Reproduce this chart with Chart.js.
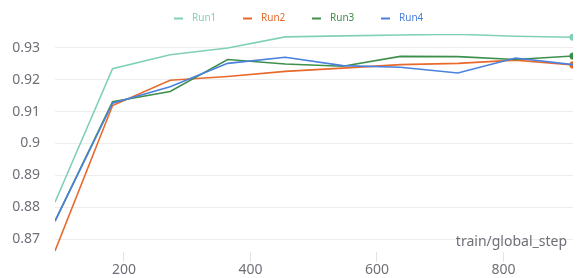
<!DOCTYPE html>
<html>
<head>
<meta charset="utf-8">
<script src="https://cdn.jsdelivr.net/npm/chart.js@4"></script>
<style>
  html, body { margin: 0; padding: 0; background: #fff; }
  #wrap { width: 578px; height: 278px; }
</style>
</head>
<body>
<div id="wrap"><canvas id="chart" width="578" height="278"></canvas></div>
<script>
// Daten
const steps = [91, 182, 273, 364, 455, 546, 637, 728, 819, 910];
const run1 = [0.8816, 0.9234, 0.9278, 0.9299, 0.9334, 0.9337, 0.9340, 0.9342, 0.9336, 0.9333];
const run2 = [0.8663, 0.9119, 0.9198, 0.9210, 0.9226, 0.9236, 0.9247, 0.9251, 0.9261, 0.9246];
const run3 = [0.8757, 0.9131, 0.9163, 0.9263, 0.9249, 0.9242, 0.9273, 0.9272, 0.9263, 0.9274];
const run4 = [0.8757, 0.9126, 0.9178, 0.9251, 0.9270, 0.9244, 0.9239, 0.9221, 0.9268, 0.9247];
const yTicks = [0.87, 0.88, 0.89, 0.9, 0.91, 0.92, 0.93];
const xTicks = [200, 400, 600, 800];

const textGray = "#6f6f78";
const font = "'Noto Sans', sans-serif";

function series(label, values, color, lastDot, order) {
  return {
    label: label,
    data: steps.map((s, i) => ({ x: s, y: values[i] })),
    borderColor: color,
    backgroundColor: color,
    borderWidth: 1.6,
    tension: 0,
    order: order,
    // nur letzter Punkt mit Marker
    pointRadius: values.map((v, i) => (lastDot && i === values.length - 1) ? 2.8 : 0),
    pointHoverRadius: 0
  };
}

// Legende oben (Linie + farbiger Text)
const topLegend = {
  id: "topLegend",
  afterDraw(chart) {
    const ctx = chart.ctx;
    const sets = chart.data.datasets;
    const itemGap = 69;
    let x = chart.width / 2 - 115;
    ctx.save();
    ctx.font = "10px " + font;
    ctx.textBaseline = "middle";
    ctx.textAlign = "left";
    sets.forEach(ds => {
      ctx.fillStyle = ds.borderColor;
      ctx.fillRect(x, 17.5, 9, 2);
      ctx.fillText(ds.label, x + 18, 18);
      x += itemGap;
    });
    ctx.restore();
  }
};

// Achsentitel unten rechts im Plot
const axisTitle = {
  id: "axisTitle",
  afterDraw(chart) {
    const { ctx, chartArea } = chart;
    ctx.save();
    ctx.font = "14px " + font;
    ctx.fillStyle = textGray;
    ctx.textAlign = "right";
    ctx.textBaseline = "middle";
    ctx.fillText("train/global_step", chartArea.right - 6, chartArea.bottom - 10);
    ctx.restore();
  }
};

new Chart(document.getElementById("chart"), {
  type: "line",
  data: {
    datasets: [
      series("Run1", run1, "#80d0b8", true, 3),
      series("Run2", run2, "#e8692c", true, 2),
      series("Run3", run3, "#3e8f4c", true, 1),
      series("Run4", run4, "#4a80de", false, 0)
    ]
  },
  options: {
    responsive: false,
    animation: false,
    layout: { padding: { top: 34, right: 5, left: 0, bottom: 0 } },
    plugins: {
      legend: { display: false },
      tooltip: { enabled: false }
    },
    scales: {
      x: {
        type: "linear",
        min: 91,
        max: 910,
        afterBuildTicks: (axis) => { axis.ticks = xTicks.map(v => ({ value: v })); },
        afterFit: (axis) => { axis.height = 26; },
        border: { display: false },
        grid: {
          drawOnChartArea: false,
          drawTicks: true,
          tickLength: 10,
          color: "#e4e4e4"
        },
        ticks: {
          padding: 0,
          color: textGray,
          font: { family: font, size: 14 }
        }
      },
      y: {
        min: 0.866,
        max: 0.9343,
        afterBuildTicks: (axis) => { axis.ticks = yTicks.map(v => ({ value: v })); },
        afterFit: (axis) => { axis.width = 55; },
        border: { display: false },
        grid: {
          color: "#ededed",
          drawTicks: false
        },
        ticks: {
          padding: 15,
          color: textGray,
          font: { family: font, size: 14 },
          callback: (v) => String(Math.round(v * 100) / 100)
        }
      }
    }
  },
  plugins: [topLegend, axisTitle]
});
</script>
</body>
</html>
